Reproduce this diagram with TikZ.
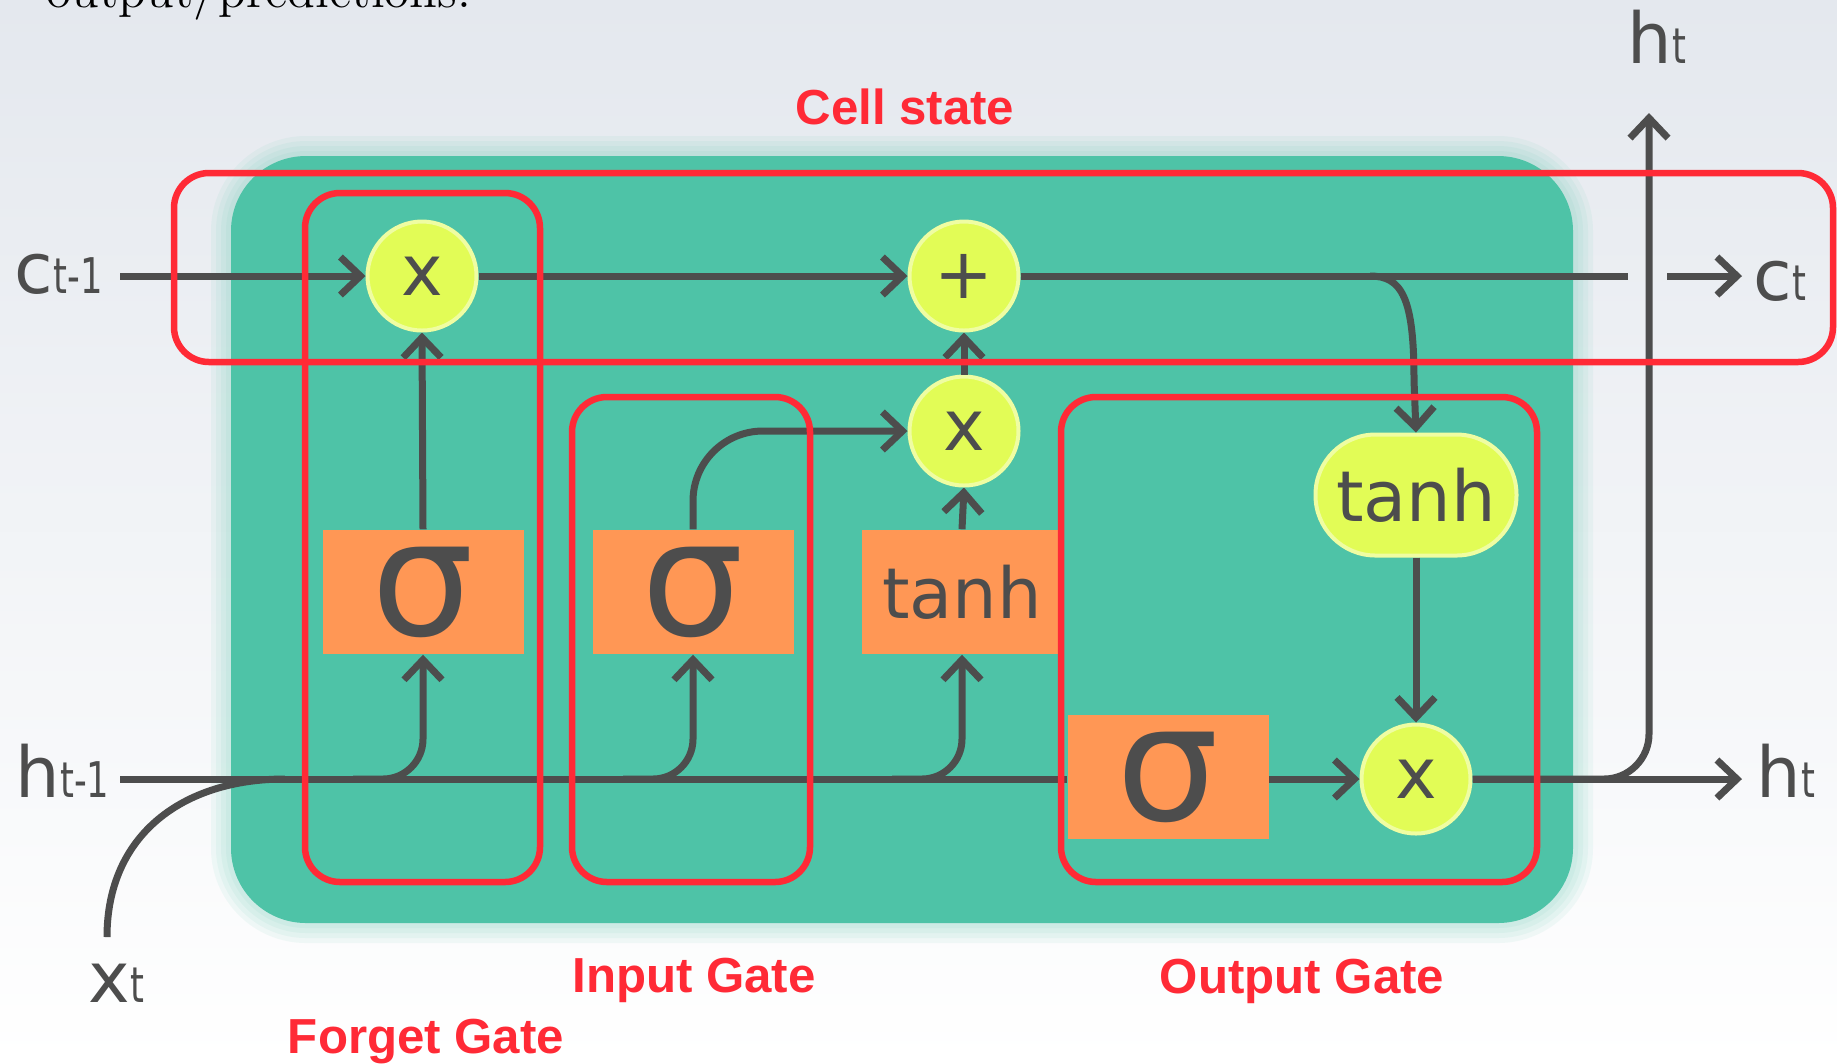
\documentclass[tikz,border=0pt]{standalone}
\usepackage{fontspec}
\newfontfamily\lstmfont{DejaVu Sans}
\newfontfamily\gatefont{Liberation Sans}
\usetikzlibrary{arrows.meta,positioning}

\definecolor{cellteal}{HTML}{4EC3A7}
\definecolor{opyellow}{HTML}{E2FC56}
\definecolor{actorange}{HTML}{FF9755}
\definecolor{wiregray}{HTML}{4D4D4D}
\definecolor{gatered}{HTML}{FF2A36}
\definecolor{bgtop}{HTML}{E4E8EE}

\newcommand{\sublab}[2]{{\fontsize{20}{20}\selectfont #1}\scalebox{0.72}[1]{\fontsize{14}{14}\selectfont #2}}

\begin{document}
\begin{tikzpicture}[x=0.1mm,y=0.1mm,>={Straight Barb[length=2mm,width=3.8mm]}]
  \tikzstyle{flow}=[draw=wiregray,line width=0.7mm]
  \tikzstyle{op}=[circle,fill=opyellow,draw=opyellow!55!white,line width=0.4mm,minimum size=10.9mm,inner sep=0pt,text=wiregray,font=\lstmfont\fontsize{20}{20}\selectfont]
  \tikzstyle{optanh}=[rectangle,rounded corners=6mm,fill=opyellow,draw=opyellow!55!white,line width=0.4mm,minimum width=20.1mm,minimum height=12.1mm,inner sep=0pt,text=wiregray,font=\lstmfont\fontsize{20}{20}\selectfont]
  \tikzstyle{layer}=[rectangle,fill=actorange,minimum width=20.1mm,minimum height=12.4mm,inner sep=0pt,text=wiregray]
  \tikzstyle{sigmabox}=[layer,font=\lstmfont\fontsize{46}{46}\selectfont]
  \tikzstyle{tanhbox}=[layer,font=\lstmfont\fontsize{20}{20}\selectfont]
  \tikzstyle{gateframe}=[draw=gatered,line width=0.65mm,rounded corners=3.5mm]
  \tikzstyle{gatelabel}=[text=gatered,inner sep=0pt,anchor=base,font=\gatefont\bfseries\fontsize{14}{14}\selectfont]
  \tikzstyle{vlabel}=[text=wiregray,inner sep=0pt,anchor=base west,font=\lstmfont]

  \useasboundingbox (0,0) rectangle (1837,-1063);
  \shade[top color=bgtop,bottom color=white] (0,0) rectangle (1837,-1063);
  \node[anchor=base west,inner sep=0pt,font=\fontsize{14.5}{14.5}\selectfont] (slidetext) at (46,-7) {output/predictions:};

  % cell body with soft glow
  \foreach \w in {4,3,2,1}
    \draw[cellteal,opacity=0.07,line width=\w mm,rounded corners=7.5mm] (231,-156) rectangle (1573,-923);
  \fill[cellteal,rounded corners=7.5mm] (231,-156) rectangle (1573,-923);

  % pointwise operations and layers
  \node[op] (fmul) at (422,-276) {x};
  \node[op] (cadd) at (964,-276) {+};
  \node[op] (imul) at (964,-431) {x};
  \node[optanh] (otanh) at (1416,-495) {tanh};
  \node[op] (omul) at (1416,-779) {x};
  \node[sigmabox] (fsig) at (423,-592) {σ};
  \node[sigmabox] (isig) at (693,-592) {σ};
  \node[tanhbox] (ctanh) at (962,-592) {tanh};
  \node[sigmabox] (osig) at (1168,-777) {σ};

  \coordinate (cs) at (120,-276);
  \coordinate (hs) at (120,-779);
  \coordinate (xs) at (107,-937);
  \coordinate (xj) at (285,-779);
  \coordinate (cgap) at (1628,-276);
  \coordinate (cgap2) at (1667,-276);
  \coordinate (cend) at (1742,-276);
  \coordinate (cb) at (1370,-276);
  \coordinate (tb) at (1414,-380);
  \coordinate (hend) at (1742,-779);
  \coordinate (htop) at (1649,-113);

  % cell state
  \draw[flow,->] (cs) -- (fmul.west);
  \draw[flow,->] (fmul.east) -- (cadd.west);
  \draw[flow] (cadd.east) -- (cgap);
  \draw[flow,->] (cgap2) -- (cend);
  \draw[flow,->] (cb) .. controls (1402,-276) and (1414,-298) .. (tb) -- (otanh.north);

  % hidden state and input
  \draw[flow] (hs) -- (osig.west |- hs);
  \draw[flow] (xs) to[out=90,in=180,looseness=1.1] (xj);
  \draw[flow,->,rounded corners=4mm] ([xshift=-7mm]fsig.south |- hs) -| (fsig.south);
  \draw[flow,->,rounded corners=4mm] ([xshift=-7mm]isig.south |- hs) -| (isig.south);
  \draw[flow,->,rounded corners=4mm] ([xshift=-7mm]ctanh.south |- hs) -| (ctanh.south);

  % gates
  \draw[flow,->] (fsig.north) -- (fmul.south);
  \draw[flow,->,rounded corners=7mm] (isig.north) |- (imul.west);
  \draw[flow,->] (ctanh.north) -- (imul.south);
  \draw[flow,->] (imul.north) -- (cadd.south);
  \draw[flow,->] (osig.east |- omul) -- (omul.west);
  \draw[flow,->] (otanh.south) -- (omul.north);
  \draw[flow,->] (omul.east) -- (hend);
  \draw[flow,->,rounded corners=4.5mm] (omul.east) -| (htop);

  % highlighted regions
  \draw[gateframe] (174,-173) rectangle (1833,-362);
  \draw[gateframe] (305,-193) rectangle (540,-882);
  \draw[gateframe] (572,-397) rectangle (810,-882);
  \draw[gateframe] (1061,-397) rectangle (1537,-882);

  \node[gatelabel] (cellname) at (905,-124) {Cell state};
  \node[gatelabel] (forgetname) at (426,-1053) {Forget Gate};
  \node[gatelabel] (inputname) at (694,-992) {Input Gate};
  \node[gatelabel] (outputname) at (1302,-993) {Output Gate};

  \node[vlabel] (cprev) at (14,-293) {\sublab{c}{t-1}};
  \node[vlabel] (hprev) at (15,-797) {\sublab{h}{t-1}};
  \node[vlabel] (xin) at (88,-1002) {\sublab{x}{t}};
  \node[vlabel] (cnext) at (1753,-300) {\sublab{c}{t}};
  \node[vlabel] (hnext) at (1756,-797) {\sublab{h}{t}};
  \node[vlabel] (hout) at (1627,-63) {\sublab{h}{t}};
\end{tikzpicture}
\end{document}
